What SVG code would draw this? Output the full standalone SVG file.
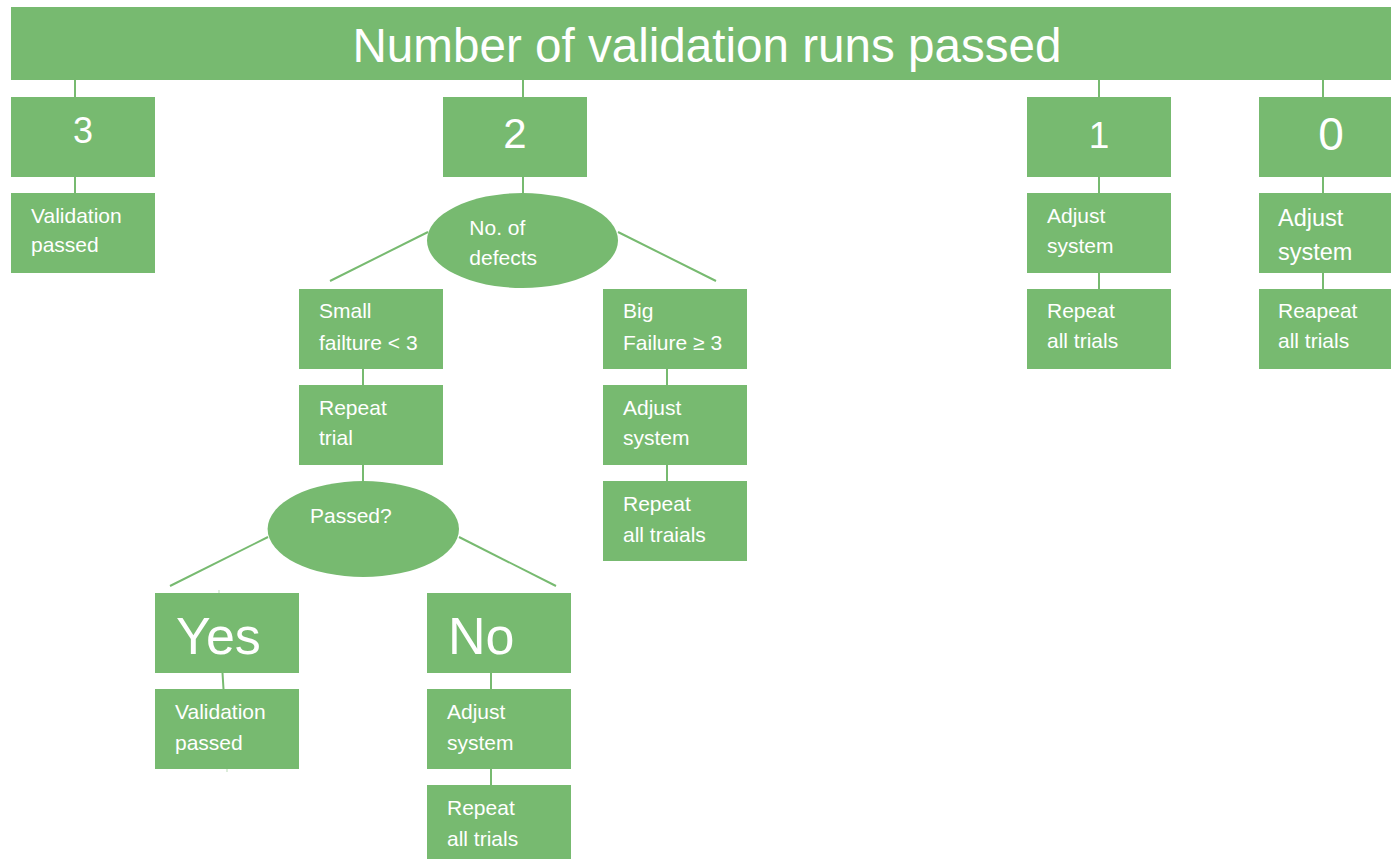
<svg xmlns="http://www.w3.org/2000/svg" width="1391" height="859" viewBox="0 0 1391 859">
  <style>
    .box { fill: #77BA70; }
    .link { stroke: #77BA70; stroke-width: 2; fill: none; }
    text { fill: #FFFFFF; font-family: "Liberation Sans", Arial, sans-serif; }
    .t { font-size: 21px; }
    .num { text-anchor: middle; }
  </style>
  <rect width="1391" height="859" fill="#FFFFFF"/>

  <!-- connectors -->
  <g id="connectors" class="link">
    <line x1="75" y1="80" x2="75" y2="97"/>
    <line x1="523" y1="80" x2="523" y2="97"/>
    <line x1="1099" y1="80" x2="1099" y2="97"/>
    <line x1="1323" y1="80" x2="1323" y2="97"/>
    <line x1="75" y1="177" x2="75" y2="193"/>
    <line x1="523" y1="177" x2="523" y2="194"/>
    <line x1="1099" y1="177" x2="1099" y2="193"/>
    <line x1="1099" y1="273" x2="1099" y2="289"/>
    <line x1="1323" y1="177" x2="1323" y2="193"/>
    <line x1="1323" y1="273" x2="1323" y2="289"/>
    <line x1="428" y1="232" x2="330" y2="281"/>
    <line x1="618" y1="232" x2="716" y2="281"/>
    <line x1="363" y1="369" x2="363" y2="385"/>
    <line x1="667" y1="369" x2="667" y2="385"/>
    <line x1="667" y1="465" x2="667" y2="481"/>
    <line x1="363" y1="465" x2="363" y2="482"/>
    <line x1="268" y1="537" x2="170" y2="586"/>
    <line x1="459" y1="537" x2="556" y2="586"/>
    <line x1="222.5" y1="673" x2="223.5" y2="689"/>
    <line x1="491" y1="673" x2="491" y2="689"/>
    <line x1="491" y1="769" x2="491" y2="785"/>
    <line x1="219" y1="590" x2="219" y2="593" stroke-width="1" opacity="0.5"/>
    <line x1="227" y1="769" x2="227" y2="772" stroke-width="1" opacity="0.5"/>
  </g>

  <g id="title">
    <rect class="box" x="11" y="7" width="1392" height="73"/>
    <text x="707" y="62.3" font-size="47.6" text-anchor="middle">Number of validation runs passed</text>
  </g>

  <!-- branch: 3 runs -->
  <g id="n3">
    <rect class="box" x="11" y="97" width="144" height="80"/>
    <text class="num" x="83" y="143" font-size="36">3</text>
  </g>
  <g id="n3-validation">
    <rect class="box" x="11" y="193" width="144" height="80"/>
    <text class="t" x="31" y="222.7">Validation</text>
    <text class="t" x="31" y="252">passed</text>
  </g>

  <!-- branch: 2 runs -->
  <g id="n2">
    <rect class="box" x="443" y="97" width="144" height="80"/>
    <text class="num" x="515" y="147.7" font-size="42">2</text>
  </g>
  <g id="defects">
    <ellipse class="box" cx="522.5" cy="240.5" rx="95.5" ry="47.5"/>
    <text class="t" x="469.3" y="235">No. of</text>
    <text class="t" x="469.3" y="265">defects</text>
  </g>
  <g id="small-failure">
    <rect class="box" x="299" y="289" width="144" height="80"/>
    <text class="t" x="319" y="318.3">Small</text>
    <text class="t" x="319" y="350">failture &lt; 3</text>
  </g>
  <g id="repeat-trial">
    <rect class="box" x="299" y="385" width="144" height="80"/>
    <text class="t" x="319" y="415">Repeat</text>
    <text class="t" x="319" y="445">trial</text>
  </g>
  <g id="passed">
    <ellipse class="box" cx="363.3" cy="529" rx="95.7" ry="48"/>
    <text class="t" x="310" y="523.3">Passed?</text>
  </g>
  <g id="yes">
    <rect class="box" x="155" y="593" width="144" height="80"/>
    <text x="176" y="654" font-size="52">Yes</text>
  </g>
  <g id="yes-validation">
    <rect class="box" x="155" y="689" width="144" height="80"/>
    <text class="t" x="175" y="719.3">Validation</text>
    <text class="t" x="175" y="750">passed</text>
  </g>
  <g id="no">
    <rect class="box" x="427" y="593" width="144" height="80"/>
    <text x="448" y="654" font-size="52">No</text>
  </g>
  <g id="no-adjust">
    <rect class="box" x="427" y="689" width="144" height="80"/>
    <text class="t" x="447" y="719.3">Adjust</text>
    <text class="t" x="447" y="750">system</text>
  </g>
  <g id="no-repeat">
    <rect class="box" x="427" y="785" width="144" height="80"/>
    <text class="t" x="447" y="815">Repeat</text>
    <text class="t" x="447" y="845.7">all trials</text>
  </g>
  <g id="big-failure">
    <rect class="box" x="603" y="289" width="144" height="80"/>
    <text class="t" x="623" y="318.3">Big</text>
    <text class="t" x="623" y="350">Failure ≥ 3</text>
  </g>
  <g id="big-adjust">
    <rect class="box" x="603" y="385" width="144" height="80"/>
    <text class="t" x="623" y="415">Adjust</text>
    <text class="t" x="623" y="445">system</text>
  </g>
  <g id="big-repeat">
    <rect class="box" x="603" y="481" width="144" height="80"/>
    <text class="t" x="623" y="511">Repeat</text>
    <text class="t" x="623" y="541.5">all traials</text>
  </g>

  <!-- branch: 1 run -->
  <g id="n1">
    <rect class="box" x="1027" y="97" width="144" height="80"/>
    <text class="num" x="1099" y="147.7" font-size="37">1</text>
  </g>
  <g id="n1-adjust">
    <rect class="box" x="1027" y="193" width="144" height="80"/>
    <text class="t" x="1047" y="223">Adjust</text>
    <text class="t" x="1047" y="253">system</text>
  </g>
  <g id="n1-repeat">
    <rect class="box" x="1027" y="289" width="144" height="80"/>
    <text class="t" x="1047" y="318.3">Repeat</text>
    <text class="t" x="1047" y="348.3">all trials</text>
  </g>

  <!-- branch: 0 runs -->
  <g id="n0">
    <rect class="box" x="1259" y="97" width="144" height="80"/>
    <text class="num" x="1331" y="150" font-size="46">0</text>
  </g>
  <g id="n0-adjust">
    <rect class="box" x="1259" y="193" width="144" height="80"/>
    <text x="1278" y="225.7" font-size="23.5">Adjust</text>
    <text x="1278" y="260" font-size="23.5">system</text>
  </g>
  <g id="n0-repeat">
    <rect class="box" x="1259" y="289" width="144" height="80"/>
    <text class="t" x="1278" y="318.3">Reapeat</text>
    <text class="t" x="1278" y="348.3">all trials</text>
  </g>
</svg>
